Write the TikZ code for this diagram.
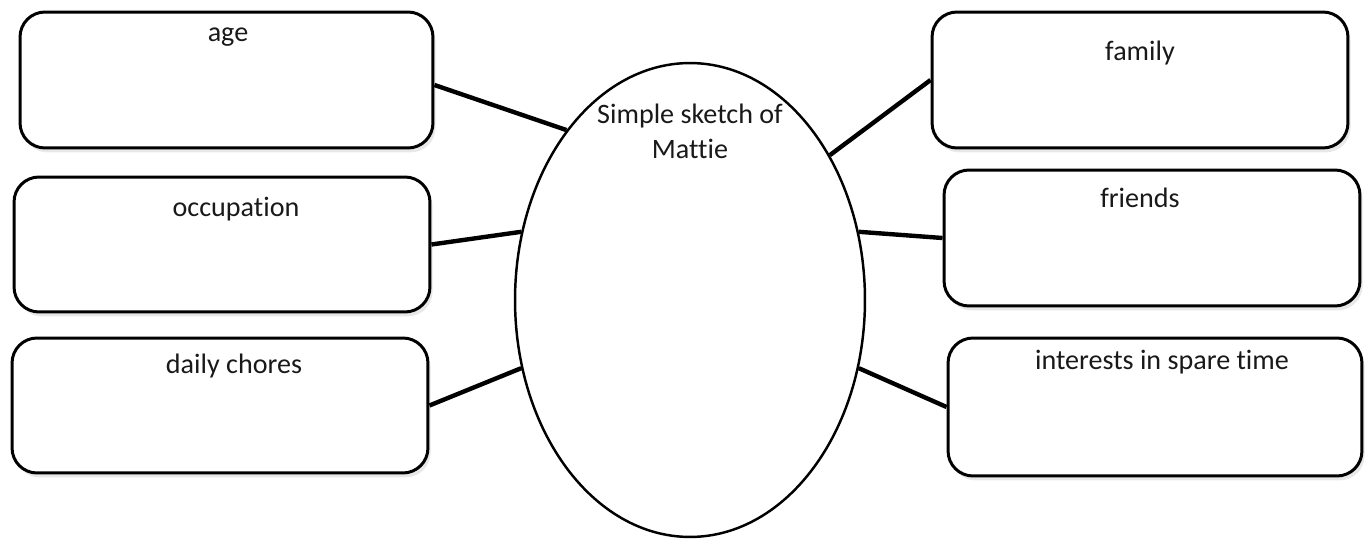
\documentclass[tikz,border=0pt]{standalone}
\usepackage{fontspec}
\setmainfont[Ligatures=NoCommon]{Carlito}
\usetikzlibrary{shapes.geometric,shadows}
\begin{document}
\begin{tikzpicture}[x=0.02cm,y=-0.02cm,
  box/.style={draw=black, line width=1.7pt, rounded corners=0.5cm, fill=white,
    inner sep=0pt, drop shadow={opacity=0.18, shadow xshift=1.5pt, shadow yshift=-2.5pt}},
  lbl/.style={font=\fontsize{16}{19.8}\selectfont, text=black!90, inner sep=0pt, align=center},
  link/.style={line width=2.5pt, black}]
\useasboundingbox (0,0) rectangle (1366,540);
\fill[white] (0,0) rectangle (1366,540);
% boxes
\node[box, minimum width=8.26cm, minimum height=2.72cm] (age) at (226.5,80) {};
\node[box, minimum width=8.32cm, minimum height=2.70cm] (occ) at (222,244.5) {};
\node[box, minimum width=8.32cm, minimum height=2.70cm] (chores) at (220,405.5) {};
\node[box, minimum width=8.32cm, minimum height=2.72cm] (family) at (1140,80) {};
\node[box, minimum width=8.32cm, minimum height=2.72cm] (friends) at (1152,238) {};
\node[box, minimum width=8.28cm, minimum height=2.76cm] (interests) at (1155,407) {};
% ellipse
\node[ellipse, draw=black, line width=1.4pt, fill=white, inner sep=0pt,
  minimum width=7cm, minimum height=9.48cm] (m) at (690,300) {};
% labels
\node[lbl] (tage) at (228,37) {age};
\node[lbl] (tocc) at (236,209) {occupation};
\node[lbl] (tchores) at (234,366) {daily chores};
\node[lbl] (tfamily) at (1140,53) {family};
\node[lbl] (tfriends) at (1140,198) {friends};
\node[lbl] (tinterests) at (1162,362) {interests in spare time};
\node[lbl] (tm) at (690,131) {Simple sketch of\\Mattie};
% connectors
\draw[link] ([yshift=-5*0.02cm]age.east) -- (m.126.8);
\draw[link] (occ.east) -- (m.158.5);
\draw[link] (chores.east) -- (m.202.9);
\draw[link] (family.west) -- (m.46.9);
\draw[link] (friends.west) -- (m.22.4);
\draw[link] (interests.west) -- (m.-22.7);
\end{tikzpicture}
\end{document}
